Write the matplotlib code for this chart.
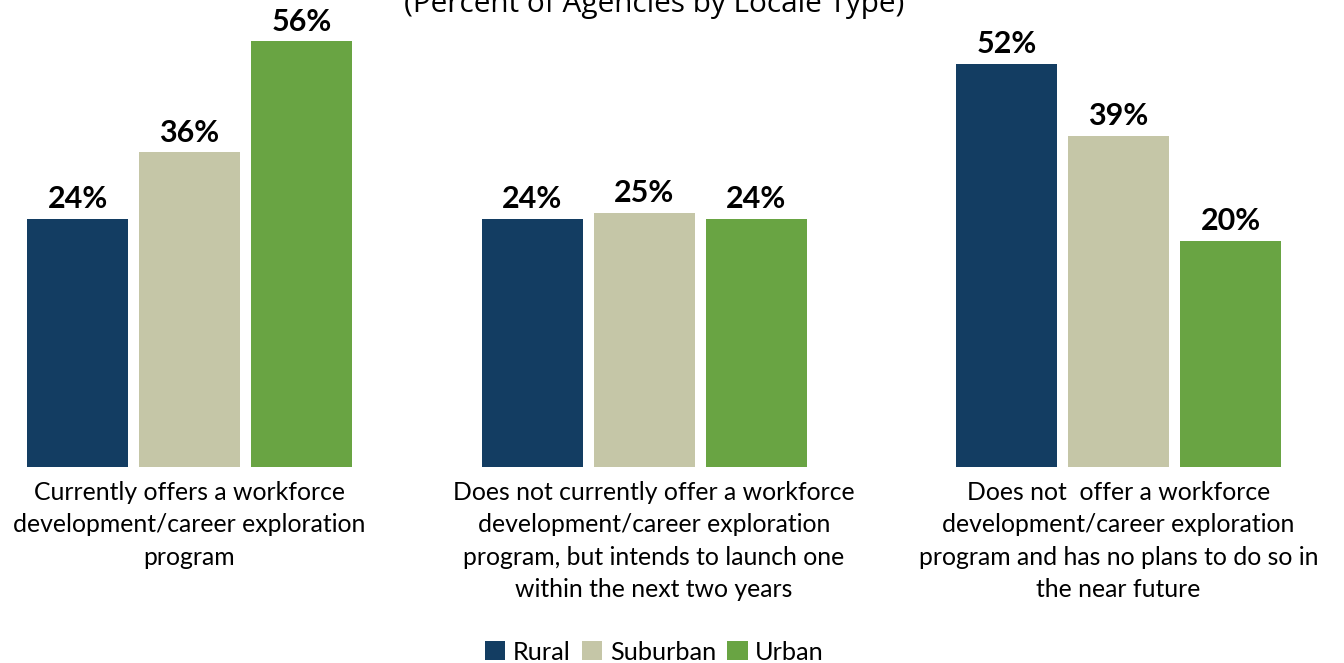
import matplotlib.pyplot as plt
import numpy as np

categories = [
    "Currently offers a workforce\ndevelopment/career exploration\nprogram",
    "Does not currently offer a workforce\ndevelopment/career exploration\nprogram, but intends to launch one\nwithin the next two years",
    "Does not  offer a workforce\ndevelopment/career exploration\nprogram and has no plans to do so in\nthe near future",
]
series = ["Rural", "Suburban", "Urban"]
rural = [24, 24, 52]
suburban = [36, 25, 39]
urban = [56, 24, 20]
colors = ["#133d62", "#c5c6a7", "#69a443"]

# the value axis does not start at zero in this chart
floor = -20.9
top = 63.5

plt.rcParams["font.family"] = ["Lato", "DejaVu Sans"]

fig = plt.figure(figsize=(13.44, 6.63), dpi=100)
ax = fig.add_axes([0, (663 - 467) / 663, 1, 467 / 663])

x = np.arange(len(categories))
# middle group of bars sits a bit left of its label
group_x = x + np.array([0, -0.0205, 0])
width = 0.2174
step = 0.2411
for i, (name, vals) in enumerate(zip(series, [rural, suburban, urban])):
    pos = group_x + (i - 1) * step
    vals = np.array(vals, dtype=float)
    ax.bar(pos, vals - floor, bottom=floor, width=width, color=colors[i], label=name)
    for p, v in zip(pos, vals):
        ax.annotate(f"{v:.0f}%", (p, v), xytext=(0, 4), textcoords="offset points",
                    ha="center", va="bottom", fontsize=22, fontweight="bold")

ax.set_xlim(-0.408, 2.4855)
ax.set_ylim(floor, top)
ax.axis("off")

for xi, lab in zip(x, categories):
    ax.annotate(lab, (xi, floor), xytext=(0, -10), textcoords="offset points",
                ha="center", va="top", fontsize=17.8, linespacing=1.5)

fig.text(0.4866, 1 - 12 / 663, "(Percent of Agencies by Locale Type)", ha="center",
         va="baseline", fontsize=21.4, family=["Open Sans", "DejaVu Sans"])

fig.legend(loc="center", bbox_to_anchor=(0.487, 1 - 652 / 663), ncol=3, frameon=False,
           fontsize=18.2, handlelength=0.8, handleheight=0.8, handletextpad=0.3,
           columnspacing=0.45)

fig.savefig("out.png", dpi=100)
